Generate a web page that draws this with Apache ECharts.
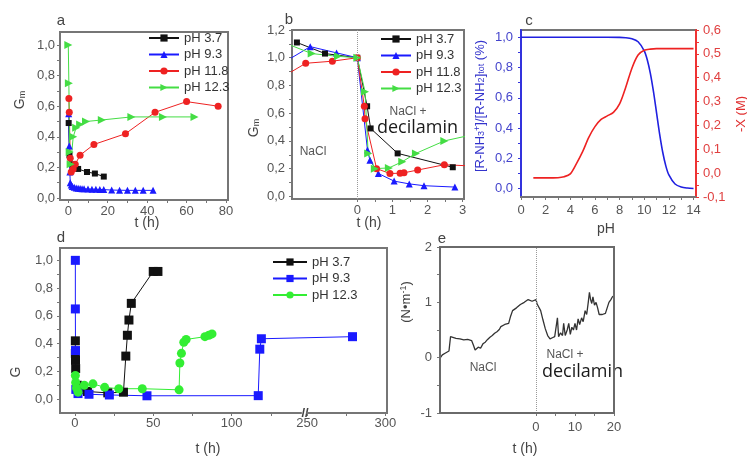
<!DOCTYPE html>
<html><head><meta charset="utf-8">
<script src="https://cdn.jsdelivr.net/npm/echarts@6.0.0/dist/echarts.min.js"></script>
<style>html,body{margin:0;padding:0;background:#fff}#c{width:747px;height:460px}</style>
</head><body><div id="c"></div>
<script>
// ---------- panel a : Gm vs t (h) ----------
const aPH37 = [[0.2,0.49],[0.6,0.28],[2,0.22],[3.5,0.21],[5,0.19],[9.5,0.17],[13.5,0.16],[18,0.14]];
const aPH93 = [[0.2,0.55],[0.5,0.34],[0.8,0.17],[1.0,0.10],[1.5,0.085],[2,0.075],[3,0.07],[4,0.066],[5,0.064],[6,0.062],[7,0.061],[8,0.06],[10,0.059],[12,0.058],[14,0.057],[16,0.056],[18,0.055],[22,0.052],[26,0.051],[30,0.05],[34,0.05],[38,0.05],[43,0.05]];
const aPH118 = [[0.3,0.65],[0.5,0.56],[1,0.26],[1.5,0.17],[2.5,0.19],[3.5,0.22],[6,0.28],[13,0.35],[29,0.42],[44,0.56],[60,0.63],[76,0.60]];
const aPH123 = [[0,1.0],[0.3,0.75],[0.7,0.30],[1.2,0.22],[2.5,0.40],[4,0.46],[6,0.48],[9,0.50],[17,0.51],[32,0.53],[48,0.53],[64,0.53]];
const aXLabels = [0,20,40,60,80];
const aXTicks = [0,10,20,30,40,50,60,70,80];
const aYLabels = [0,0.2,0.4,0.6,0.8,1.0];
const aYTicks = [0,0.1,0.2,0.3,0.4,0.5,0.6,0.7,0.8,0.9,1.0];

// ---------- panel b : Gm vs t (h), NaCl then NaCl + decilamin ----------
const bPH37 = [[-1.72,1.11],[-0.92,1.03],[0,1.0],[0.28,0.65],[0.38,0.49],[1.15,0.31],[2.72,0.21]];
const bPH93 = [[-2.0,0.98],[-1.34,1.08],[-0.59,1.035],[0,1.0],[0.29,0.335],[0.36,0.26],[0.6,0.165],[1.05,0.11],[1.48,0.09],[1.9,0.077],[2.78,0.067]];
const bPH118 = [[-2.0,0.88],[-1.47,0.96],[-0.71,0.975],[0,1.0],[0.2,0.65],[0.22,0.56],[0.55,0.2],[0.93,0.165],[1.22,0.167],[1.33,0.17],[1.72,0.19],[2.48,0.228],[3.2,0.22]];
const bPH123 = [[-2.0,1.1],[-1.3,1.03],[-0.55,1.01],[0,1.0],[0.22,0.755],[0.31,0.31],[0.5,0.2],[0.9,0.205],[1.28,0.25],[1.67,0.31],[2.48,0.40],[3.2,0.44]];
const bXLabels = [0,1,2,3];
const bXTicks = [0,0.5,1,1.5,2,2.5,3];
const bYLabels = [0,0.2,0.4,0.6,0.8,1.0,1.2];
const bYTicks = [0,0.1,0.2,0.3,0.4,0.5,0.6,0.7,0.8,0.9,1.0,1.1,1.2];

// ---------- panel c : fraction protonated and -X vs pH ----------
const cFraction = [[0,1.0],[2,1.0],[4,1.0],[6,1.0],[8,0.999],[8.5,0.997],[9,0.99],[9.5,0.97],[10,0.91],[10.25,0.85],[10.5,0.76],[10.75,0.64],[11,0.5],[11.25,0.36],[11.5,0.24],[11.75,0.15],[12,0.09],[12.5,0.03],[13,0.01],[13.5,0.003],[14,0.0]];
const cMinusX = [[1,-0.02],[2,-0.02],[3,-0.019],[3.5,-0.015],[4,-0.003],[4.5,0.04],[5,0.09],[5.5,0.15],[6,0.195],[6.5,0.225],[7,0.24],[7.5,0.255],[8,0.29],[8.5,0.36],[9,0.44],[9.5,0.495],[10,0.515],[10.5,0.52],[11,0.522],[12,0.522],[13,0.522],[14,0.522]];
const cXLabels = [0,2,4,6,8,10,12,14];
const cXTicks = [0,1,2,3,4,5,6,7,8,9,10,11,12,13,14];
const cYLabels = [0,0.2,0.4,0.6,0.8,1.0];
const cYTicks = [0,0.1,0.2,0.3,0.4,0.5,0.6,0.7,0.8,0.9,1.0];
const cY2Labels = [-0.1,0,0.1,0.2,0.3,0.4,0.5,0.6];
const cY2Ticks = [-0.1,-0.05,0,0.05,0.1,0.15,0.2,0.25,0.3,0.35,0.4,0.45,0.5,0.55,0.6];

// ---------- panel d : G vs t (h), broken axis ----------
const dPH37 = [[0.3,0.42],[0.3,0.33],[0.4,0.28],[0.5,0.22],[1.5,0.10],[3,0.07],[8,0.055],[21,0.045],[31,0.05],[32.5,0.31],[33.5,0.46],[34.5,0.57],[36,0.69],[50,0.92],[53,0.92]];
const dPH93 = [[0.3,1.0],[0.3,0.65],[0.4,0.35],[0.6,0.07],[2,0.04],[9,0.035],[22,0.03],[46,0.024],[117,0.025],[118,0.36],[119,0.435],[279,0.45]];
const dPH123 = [[0.3,0.17],[0.5,0.12],[1,0.08],[2,0.05],[6,0.10],[11.5,0.11],[19,0.085],[28,0.075],[43,0.075],[66.5,0.067],[67,0.26],[68,0.33],[69.5,0.41],[71,0.43],[83,0.45],[85.5,0.46],[87.5,0.47]];
const dXLabels = [0,50,100,250,300];
const dXTicks = [0,25,50,75,100,125,250,275,300];
const dYLabels = [0,0.2,0.4,0.6,0.8,1.0];
const dYTicks = [0,0.1,0.2,0.3,0.4,0.5,0.6,0.7,0.8,0.9,1.0];

// ---------- panel e : (N·m-1) vs t (h) ----------
const eTension = [[-24.5,0.0],[-24.0,0.05],[-23.3,0.08],[-22.8,0.05],[-22.3,0.12],[-21.9,0.38],[-21.5,0.36],[-20.5,0.35],[-19.5,0.34],[-18.5,0.32],[-17.5,0.33],[-17.0,0.30],[-16.5,0.31],[-16.0,0.22],[-15.6,0.14],[-15.2,0.13],[-14.8,0.19],[-14.2,0.17],[-13.6,0.25],[-13.0,0.28],[-12.4,0.33],[-11.8,0.37],[-11.2,0.40],[-10.6,0.44],[-10.0,0.47],[-9.4,0.51],[-9.0,0.56],[-8.6,0.54],[-8.0,0.60],[-7.5,0.63],[-7.0,0.62],[-6.5,0.75],[-6.0,0.85],[-5.5,0.88],[-5.0,0.90],[-4.5,0.93],[-4.0,0.96],[-3.5,0.97],[-3.0,1.00],[-2.5,1.03],[-2.0,1.05],[-1.5,1.03],[-1.0,1.02],[-0.5,1.00],[0,1.05],[0.3,0.97],[0.7,1.00],[1.2,0.85],[1.8,0.68],[2.4,0.52],[3.0,0.40],[3.6,0.34],[4.2,0.36],[4.8,0.38],[5.2,0.40],[5.5,0.72],[5.8,0.38],[6.3,0.45],[6.8,0.40],[7.1,0.62],[7.5,0.40],[8.0,0.50],[8.4,0.62],[8.8,0.42],[9.2,0.55],[9.6,0.50],[10.0,0.62],[10.4,0.50],[10.8,0.70],[11.2,0.60],[11.7,0.72],[12.1,0.65],[12.6,0.85],[13.0,0.78],[13.4,1.00],[13.7,1.18],[14.0,1.05],[14.3,0.98],[14.6,1.10],[15.0,0.95],[15.4,1.00],[15.8,0.90],[16.2,0.78],[17.0,0.78],[17.8,0.80],[18.3,0.82],[18.7,1.00],[19.2,1.05],[19.6,1.10],[20.0,1.12]];
const eXLabels = [0,10,20];
const eXTicks = [0,5,10,15,20];
const eYLabels = [-1,0,1,2];
const eYTicks = [-1,-0.5,0,0.5,1,1.5,2];

// ---------- styling ----------
const FONT = 'Liberation Sans, Arial, sans-serif';
const GREY = '#767676';
const LW = 2;
const LBL = '#555';
const BLACK = '#111', BLUE = '#1a1aff', RED = '#ee2222', GREEN_A = '#44dd44', GREEN_D = '#33ee33';
const fmt1 = v => v.toFixed(1).replace('.', ',');
const fmt0 = v => String(Math.round(v));

function axis(gi, min, max, labels, ticks, fmt, margin, extra) {
  return Object.assign({
    type: 'value', gridIndex: gi, min: min, max: max,
    axisLine: {show: true, onZero: false, lineStyle: {color: GREY, width: LW}},
    axisTick: {show: true, inside: false, length: 3, customValues: ticks, lineStyle: {color: GREY, width: 1}},
    axisLabel: {show: true, customValues: labels, formatter: fmt, fontSize: 13, color: LBL, fontFamily: FONT, margin: margin},
    splitLine: {show: false}, minorTick: {show: false}
  }, extra || {});
}
function line(name, xi, yi, data, color, symbol, size, extra) {
  return Object.assign({
    type: 'line', name: name, xAxisIndex: xi, yAxisIndex: yi, data: data,
    symbol: symbol, symbolSize: size, showSymbol: true, clip: true,
    lineStyle: {color: color, width: 1}, itemStyle: {color: color},
    emphasis: {disabled: true}, animation: false
  }, extra || {});
}
function legend(names, left, top, iw) {
  return {
    data: names, orient: 'vertical', left: left, top: top, padding: 0,
    itemWidth: iw, itemHeight: 9, itemGap: 2.5, selectedMode: false,
    formatter: n => n.split(':')[1],
    textStyle: {fontSize: 13, color: '#333', fontFamily: FONT, lineHeight: 14, padding: [0, 0, 0, 0]}
  };
}
const vline = {silent: true, symbol: 'none', label: {show: false},
  lineStyle: {type: 'dotted', color: '#999', width: 1}, data: [{xAxis: 0}], animation: false};

function txt(x, y, text, size, color, extra) {
  return Object.assign({type: 'text', x: x, y: y, silent: true,
    style: {text: text, fontSize: size, fill: color, fontFamily: FONT, align: 'center', verticalAlign: 'middle'}}, extra || {});
}
function vtxt(x, y, text, size, color, rich) {
  return {type: 'text', x: x, y: y, rotation: Math.PI / 2, silent: true,
    style: {text: text, fontSize: size, fill: color, fontFamily: FONT, align: 'center', verticalAlign: 'middle', rich: rich || {}}};
}
const subRich = (c) => ({
  sub: {fontSize: 9, fill: c, fontFamily: FONT, verticalAlign: 'bottom', lineHeight: 10},
  sup: {fontSize: 9, fill: c, fontFamily: FONT, verticalAlign: 'top', lineHeight: 10}
});
const gridBox = (l, t, w, h) => ({left: l, top: t, width: w, height: h, show: true, borderColor: GREY, borderWidth: LW});

const chart = echarts.init(document.getElementById('c'));
chart.setOption({
  animation: false,
  backgroundColor: '#fff',
  grid: [
    gridBox(60, 32, 168, 168),
    gridBox(292, 30, 172, 169),
    gridBox(521, 30, 175, 167),
    gridBox(60, 248, 327, 165),
    gridBox(440, 247, 174, 166)
  ],
  xAxis: [
    axis(0, -4.2, 81, aXLabels, aXTicks, fmt0, 5),
    axis(1, -1.86, 3.04, bXLabels, bXTicks, fmt0, 5),
    axis(2, 0, 14.2, cXLabels, cXTicks, fmt0, 7),
    axis(3, -9.5, 301, dXLabels, dXTicks, fmt0, 4, {
      breaks: [{start: 144, end: 250, gap: '2%'}],
      breakArea: {show: false}
    }),
    axis(4, -24.6, 20, eXLabels, eXTicks, fmt0, 8)
  ],
  yAxis: [
    axis(0, -0.013, 1.085, aYLabels, aYTicks, fmt1, 5),
    axis(1, -0.019, 1.2, bYLabels, bYTicks, fmt1, 7),
    axis(2, -0.056, 1.048, cYLabels, cYTicks, fmt1, 8, {
      axisLine: {show: true, onZero: false, lineStyle: {color: '#3333dd', width: LW}},
      axisTick: {show: true, length: 3, customValues: cYTicks, lineStyle: {color: '#3333dd'}},
      axisLabel: {show: true, customValues: cYLabels, formatter: fmt1, fontSize: 13, color: '#4444cc', fontFamily: FONT, margin: 8}
    }),
    axis(2, -0.1, 0.6, cY2Labels, cY2Ticks, fmt1, 7, {
      position: 'right',
      axisLine: {show: true, onZero: false, lineStyle: {color: '#ee3333', width: LW}},
      axisTick: {show: true, length: 3, customValues: cY2Ticks, lineStyle: {color: '#ee3333'}},
      axisLabel: {show: true, customValues: cY2Labels, formatter: fmt1, fontSize: 13, color: '#e04040', fontFamily: FONT, margin: 7}
    }),
    axis(3, -0.1, 1.089, dYLabels, dYTicks, fmt1, 7),
    axis(4, -1, 2, eYLabels, eYTicks, fmt0, 8)
  ],
  legend: [
    legend(['a:pH 3.7', 'a:pH 9.3', 'a:pH 11.8', 'a:pH 12.3'], 148, 31, 30),
    legend(['b:pH 3.7', 'b:pH 9.3', 'b:pH 11.8', 'b:pH 12.3'], 380, 32, 30),
    legend(['d:pH 3.7', 'd:pH 9.3', 'd:pH 12.3'], 272, 255, 34)
  ],
  series: [
    line('a:pH 3.7', 0, 0, aPH37, BLACK, 'rect', 6),
    line('a:pH 9.3', 0, 0, aPH93, BLUE, 'triangle', 7),
    line('a:pH 11.8', 0, 0, aPH118, RED, 'circle', 7),
    line('a:pH 12.3', 0, 0, aPH123, GREEN_A, 'triangle', 8, {symbolRotate: -90}),

    line('b:pH 3.7', 1, 1, bPH37, BLACK, 'rect', 6, {markLine: vline}),
    line('b:pH 9.3', 1, 1, bPH93, BLUE, 'triangle', 7),
    line('b:pH 11.8', 1, 1, bPH118, RED, 'circle', 7),
    line('b:pH 12.3', 1, 1, bPH123, GREEN_A, 'triangle', 8, {symbolRotate: -90}),

    line('c:fraction', 2, 2, cFraction, '#2020e0', 'none', 0, {smooth: 0.3, lineStyle: {color: '#2020e0', width: 1.6}}),
    line('c:-X', 2, 3, cMinusX, '#ee2222', 'none', 0, {smooth: 0.3, lineStyle: {color: '#ee2222', width: 1.6}}),

    line('d:pH 3.7', 3, 4, dPH37, BLACK, 'rect', 9),
    line('d:pH 9.3', 3, 4, dPH93, BLUE, 'rect', 9),
    line('d:pH 12.3', 3, 4, dPH123, GREEN_D, 'circle', 9),

    line('e:tension', 4, 5, eTension, '#333', 'none', 0, {lineStyle: {color: '#333', width: 1.3}, markLine: vline})
  ],
  graphic: [
    {type: 'rect', silent: true, z: 100, shape: {x: 440, y: 247, width: 174, height: 166},
      style: {fill: 'rgba(0,0,0,0)', stroke: '#6a6a6a', lineWidth: 2}},

    txt(61, 21, 'a', 15, '#444'),
    txt(289, 20, 'b', 15, '#444'),
    txt(529, 21, 'c', 15, '#444'),
    txt(61, 238, 'd', 15, '#444'),
    txt(442, 239, 'e', 15, '#444'),

    txt(147, 223, 't (h)', 14, '#444'),
    txt(369, 223, 't (h)', 14, '#444'),
    txt(606, 229, 'pH', 14, '#444'),
    txt(208, 449, 't (h)', 14, '#444'),
    txt(525, 449, 't (h)', 14, '#444'),

    vtxt(20, 100, 'G{sub|m}', 14, '#444', subRich('#444')),
    vtxt(254, 128, 'G{sub|m}', 14, '#444', subRich('#444')),
    vtxt(16, 372, 'G', 14, '#444'),
    vtxt(406, 302, '(N•m{sup|-1})', 13, '#444', subRich('#444')),
    vtxt(480, 106, '[R-NH{sub|3}{sup|+}]/[R-NH{sub|2}]{sub|tot} (%)', 13, '#3333cc', subRich('#3333cc')),
    vtxt(741, 114, '-X (M)', 13, '#e03030'),

    txt(313, 152, 'NaCl', 12, '#555'),
    txt(408, 112, 'NaCl +', 12, '#555'),
    txt(377, 128, 'decilamin', 18, '#1a1a1a', {style: {text: 'decilamin', fontSize: 18, fill: '#1a1a1a', fontFamily: 'Open Sans, sans-serif', align: 'left', verticalAlign: 'middle'}}),
    txt(483, 368, 'NaCl', 12, '#555'),
    txt(565, 355, 'NaCl +', 12, '#555'),
    txt(542, 372, 'decilamin', 18, '#1a1a1a', {style: {text: 'decilamin', fontSize: 18, fill: '#1a1a1a', fontFamily: 'Open Sans, sans-serif', align: 'left', verticalAlign: 'middle'}}),
    txt(305, 413, '//', 13, '#444', {style: {text: '//', fontSize: 13, fontWeight: 'bold', fill: '#444', fontFamily: FONT, align: 'center', verticalAlign: 'middle', backgroundColor: '#fff'}})
  ]
});
</script></body></html>
